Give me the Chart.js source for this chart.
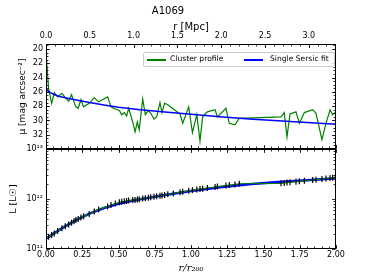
<!DOCTYPE html>
<html><head><meta charset="utf-8">
<script src="https://cdn.jsdelivr.net/npm/chart.js@4.4.1/dist/chart.umd.min.js"></script>
<style>
html,body{margin:0;padding:0;background:#fff;}
#wrap{position:relative;width:374px;height:280px;overflow:hidden;font-family:"DejaVu Sans",sans-serif;}
canvas{position:absolute;left:0;}
#c1{top:0;}
#c2{top:140px;}
#legend{position:absolute;left:143px;top:52px;width:190px;height:13px;border:1px solid #cccccc;border-radius:2px;background:rgba(255,255,255,0.85);}
.ln{position:absolute;height:1.5px;top:6px;}
.lt{position:absolute;top:1px;font-size:7.6px;line-height:10px;color:#000;white-space:nowrap;}
</style></head><body>
<div id="wrap">
<canvas id="c1" width="374" height="150" style="width:374px;height:150px"></canvas>
<canvas id="c2" width="374" height="140" style="width:374px;height:140px"></canvas>
<div id="legend">
  <div class="ln" style="left:3px;width:19px;background:#008000"></div>
  <div class="lt" style="left:26px">Cluster profile</div>
  <div class="ln" style="left:100px;width:19px;background:#0000ff"></div>
  <div class="lt" style="left:126px">Single Sersic fit</div>
</div>
</div>
<script>
// ---- data ----
const titleText = 'A1069';
const rProfile = [0.000,0.018,0.039,0.057,0.080,0.110,0.133,0.156,0.176,0.193,0.206,0.222,0.241,0.259,0.298,0.333,0.363,0.425,0.448,0.478,0.506,0.522,0.540,0.556,0.570,0.598,0.614,0.630,0.643,0.667,0.685,0.706,0.722,0.745,0.763,0.786,0.800,0.818,0.840,0.878,0.924,0.943,0.984,1.010,1.040,1.062,1.080,1.113,1.166,1.182,1.241,1.264,1.303,1.333,1.621,1.643,1.662,1.683,1.724,1.747,1.782,1.839,1.862,1.903,1.931,1.959,1.977,1.995];
const muProfile = [20.5,25.6,27.6,26.1,26.7,26.2,26.8,27.3,26.4,27.4,28.1,28.3,27.1,28.1,27.6,26.8,27.4,26.7,28.1,28.4,28.6,29.2,28.9,29.4,28.3,30.2,31.6,30.2,31.3,27.0,29.2,28.6,29.0,29.8,29.5,27.5,28.9,27.6,27.8,28.4,29.1,30.4,28.1,31.7,29.2,32.9,29.5,28.8,28.5,29.5,28.3,30.4,30.6,29.7,29.5,28.9,32.3,29.1,28.8,30.4,28.9,28.5,29.0,32.7,30.4,28.5,29.2,28.9];
const rFit = [0,0.01,0.03,0.06,0.1,0.15,0.2,0.3,0.4,0.5,0.65,0.8,1.0,1.2,1.4,1.6,1.8,2.0];
const muFit = [25.5,25.8,26.1,26.4,26.7,26.9,27.1,27.5,27.85,28.15,28.5,28.8,29.15,29.5,29.8,30.05,30.3,30.55];
const lumProfile = [1.65e11,1.75e11,1.9e11,2.05e11,2.3e11,2.6e11,2.85e11,3.1e11,3.35e11,3.6e11,3.8e11,4.0e11,4.25e11,4.5e11,5.0e11,5.6e11,6.2e11,7.1e11,7.6e11,8.1e11,8.6e11,8.8e11,9.0e11,9.15e11,9.3e11,9.5e11,9.6e11,9.8e11,9.9e11,1.02e12,1.04e12,1.06e12,1.08e12,1.11e12,1.13e12,1.16e12,1.18e12,1.2e12,1.24e12,1.29e12,1.36e12,1.39e12,1.46e12,1.5e12,1.54e12,1.58e12,1.61e12,1.66e12,1.74e12,1.77e12,1.86e12,1.9e12,1.96e12,2.02e12,2.06e12,2.1e12,2.13e12,2.16e12,2.22e12,2.26e12,2.31e12,2.4e12,2.44e12,2.52e12,2.57e12,2.62e12,2.65e12,2.68e12];
const rLumFit = [0,0.1,0.2,0.3,0.4,0.5,0.6,0.8,1.0,1.2,1.4,1.6,1.8,2.0];
const lumFit = [1.6e11,2.5e11,3.7e11,5.1e11,6.6e11,8.0e11,9.3e11,1.17e12,1.45e12,1.72e12,1.98e12,2.18e12,2.38e12,2.6e12];
const xTicks = [0,0.25,0.5,0.75,1.0,1.25,1.5,1.75,2.0];
const mpcTicks = [0,0.5,1.0,1.5,2.0,2.5,3.0];
const mpcMax = 3.31;
const muTicks = [20,22,24,26,28,30,32];
const lumTicks = [1e11,1e12,1e13];
const lumTickLabels = ['10\u00b9\u00b9','10\u00b9\u00b2','10\u00b9\u00b3'];

Chart.defaults.font.family = '"DejaVu Sans", sans-serif';
Chart.defaults.color = '#000';

function range(a,b,s){const o=[];for(let v=a;v<=b+1e-9;v+=s)o.push(+v.toFixed(6));return o;}
const xMinor = range(0,2,0.05);
const mpcMinor = range(0,3.3,0.1);
const muMinor = range(19.5,34,0.5);
const lumMinor = [];
[1e11,1e12].forEach(d=>{for(let k=2;k<=9;k++)lumMinor.push(k*d);});

function noPad(s){s.paddingTop=0;s.paddingBottom=0;s.paddingLeft=0;s.paddingRight=0;}

function frameTicks(spec){
  return {id:'frameTicks', afterDraw(chart){
    const ctx=chart.ctx, a=chart.chartArea;
    ctx.save();
    ctx.strokeStyle='#000'; ctx.lineWidth=1;
    const L=Math.round(a.left)+0.5, R=Math.round(a.right)-0.5, T=Math.round(a.top)+0.5, B=Math.round(a.bottom)-0.5;
    ctx.strokeRect(L,T,R-L,B-T);
    ctx.lineWidth=0.8;
    spec.forEach(s=>{
      const sc=chart.scales[s.scale];
      [[s.major,3.5],[s.minor,2]].forEach(([vals,len])=>{
        vals.forEach(v=>{
          if(v<sc.min-1e-9||v>sc.max+1e-9)return;
          const p=Math.round(sc.getPixelForValue(v))+0.5;
          ctx.beginPath();
          s.sides.forEach(side=>{
            if(side==='bottom'){ctx.moveTo(p,B);ctx.lineTo(p,B-len);}
            if(side==='top'){ctx.moveTo(p,T);ctx.lineTo(p,T+len);}
            if(side==='left'){ctx.moveTo(L,p);ctx.lineTo(L+len,p);}
            if(side==='right'){ctx.moveTo(R,p);ctx.lineTo(R-len,p);}
          });
          ctx.stroke();
        });
      });
    });
    ctx.restore();
  }};
}

const toPts=(xs,ys)=>xs.map((x,i)=>({x:x,y:ys[i]}));

new Chart(document.getElementById('c1'),{
  type:'scatter',
  data:{datasets:[
    {label:'Single Sersic fit',data:toPts(rFit,muFit),showLine:true,borderColor:'#0000ff',borderWidth:1.5,pointRadius:0,xAxisID:'x',yAxisID:'y'},
    {label:'Cluster profile',data:toPts(rProfile,muProfile),showLine:true,borderColor:'#008000',borderWidth:1.2,pointRadius:0,xAxisID:'x',yAxisID:'y'}
  ]},
  options:{
    responsive:false,animation:false,events:[],
    layout:{padding:{left:0,right:38,top:0,bottom:1}},
    plugins:{legend:{display:false},tooltip:{enabled:false},
      title:{display:true,text:titleText,color:'#000',font:{size:10,weight:'normal'},padding:{top:5,bottom:0}}},
    scales:{
      x:{type:'linear',min:0,max:2,display:false},
      x2:{type:'linear',position:'top',min:0,max:mpcMax,
        grid:{display:false,drawTicks:false},border:{display:false},
        ticks:{padding:3,font:{size:8},autoSkip:false,maxRotation:0,callback:v=>Number(v).toFixed(1)},
        afterBuildTicks:s=>{s.ticks=mpcTicks.map(v=>({value:v}));},
        afterFit:s=>{s.height=27;noPad(s);},
        title:{display:true,text:'r [Mpc]',font:{size:10},padding:{top:4,bottom:0}}},
      y:{type:'linear',position:'left',reverse:true,min:19.3,max:34,
        grid:{display:false,drawTicks:false},border:{display:false},
        ticks:{padding:3,font:{size:8},autoSkip:false},
        afterBuildTicks:s=>{s.ticks=muTicks.map(v=>({value:v}));},
        afterFit:s=>{s.width=46;noPad(s);},
        title:{display:true,text:'\u03bc [mag arcsec\u207b\u00b2]',font:{size:9},padding:{top:17,bottom:0}}}
    }
  },
  plugins:[frameTicks([
    {scale:'x',sides:['bottom'],major:xTicks,minor:xMinor},
    {scale:'x2',sides:['top'],major:mpcTicks,minor:mpcMinor},
    {scale:'y',sides:['left','right'],major:muTicks,minor:muMinor}
  ])]
});

new Chart(document.getElementById('c2'),{
  type:'scatter',
  data:{datasets:[
    {label:'errors',data:toPts(rProfile,lumProfile),showLine:false,pointStyle:'line',rotation:90,pointRadius:3,borderColor:'#000',pointBorderColor:'#000',pointBorderWidth:1.2,xAxisID:'x',yAxisID:'yL'},
    {label:'Cluster profile',data:toPts(rProfile,lumProfile),showLine:true,borderColor:'#008000',borderWidth:1.2,pointRadius:0,xAxisID:'x',yAxisID:'yL'},
    {label:'Single Sersic fit',data:toPts(rLumFit,lumFit),showLine:true,borderColor:'#0000ff',borderWidth:2.5,pointRadius:0,xAxisID:'x',yAxisID:'yL'}
  ]},
  options:{
    responsive:false,animation:false,events:[],
    layout:{padding:{left:0,right:38,top:9,bottom:0}},
    plugins:{legend:{display:false},tooltip:{enabled:false}},
    scales:{
      x:{type:'linear',position:'bottom',min:0,max:2,
        grid:{display:false,drawTicks:false},border:{display:false},
        ticks:{padding:1.5,font:{size:8},autoSkip:false,maxRotation:0,callback:v=>Number(v).toFixed(2)},
        afterBuildTicks:s=>{s.ticks=xTicks.map(v=>({value:v}));},
        afterFit:s=>{s.height=31;noPad(s);},
        title:{display:true,text:'r/r\u2082\u2080\u2080',font:{size:10,style:'italic',family:'"DejaVu Serif", serif'},padding:{top:0,bottom:6}}},
      yL:{type:'logarithmic',position:'left',min:1e11,max:1e13,
        grid:{display:false,drawTicks:false},border:{display:false},
        ticks:{padding:3,font:{size:8},autoSkip:false,callback:(v)=>{const i=lumTicks.findIndex(t=>Math.abs(t-v)/t<1e-6);return i>=0?lumTickLabels[i]:'';}},
        afterBuildTicks:s=>{s.ticks=lumTicks.map(v=>({value:v}));},
        afterFit:s=>{s.width=46;noPad(s);},
        title:{display:true,text:'L [L\u2609]',font:{size:9.5},padding:{top:8,bottom:0}}}
    }
  },
  plugins:[frameTicks([
    {scale:'x',sides:['bottom','top'],major:xTicks,minor:xMinor},
    {scale:'yL',sides:['left','right'],major:lumTicks,minor:lumMinor}
  ])]
});
</script>
</body></html>
